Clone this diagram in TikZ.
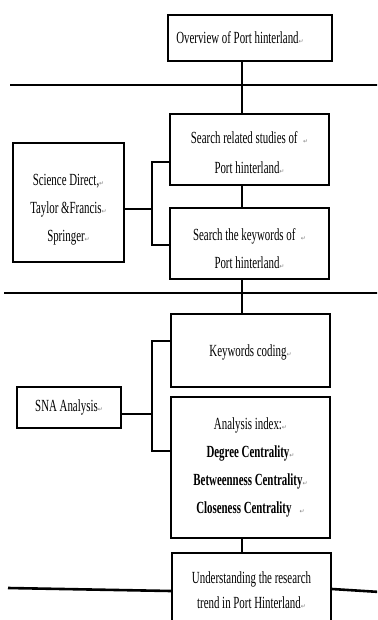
\documentclass[tikz,border=0pt]{standalone}
\usepackage{fontspec}
\setmainfont[FakeStretch=0.64]{Liberation Serif}
\newfontfamily\symf{DejaVu Sans}
\usetikzlibrary{calc}
\newcommand\rmk{{\symf\fontsize{6}{6}\selectfont\color{gray}↵}}
\newcommand\lift[1]{\rule{0pt}{#1pt}}
\begin{document}
\begin{tikzpicture}[x=1pt,y=-1pt,
  box/.style={draw, line width=2pt, align=center, inner sep=0pt, font=\fontsize{17}{28}\selectfont},
  vline/.style={line width=1.3pt},
  conn/.style={line width=2pt},
  sepline/.style={line width=2.6pt}]
\useasboundingbox (0,0) rectangle (377,620);
\clip (0,0) rectangle (377,620);

% boxes
\node[box, minimum width=164pt, minimum height=46pt] (top) at (250,38)
  {Overview of Port hinterland\rmk\hspace*{20pt}};
\node[box, minimum width=159pt, minimum height=71pt] (rel) at (249.5,149.5)
  {\lift{19}Search related studies of\ \ \rmk\\[2pt]Port hinterland\rmk};
\node[box, minimum width=159pt, minimum height=71pt] (kw) at (249.5,243.5)
  {\lift{23}Search the keywords of\ \ \rmk\\Port hinterland\rmk};
\node[box, minimum width=111pt, minimum height=119pt] (src) at (68.5,202.5)
  {\lift{26}Science Direct,\rmk\\Taylor \&Francis\rmk\\Springer\rmk};
\node[box, minimum width=159pt, minimum height=73pt] (code) at (250.5,350.5)
  {\lift{15}Keywords coding\rmk};
\node[box, minimum width=159pt, minimum height=141pt] (idx) at (250.5,467.5)
  {Analysis index:\rmk\\\textbf{Degree Centrality}\rmk\\\textbf{Betweenness Centrality}\rmk\\\textbf{Closeness Centrality}\ \ \ \rmk};
\node[box, minimum width=104pt, minimum height=41pt] (sna) at (69,407.5)
  {SNA Analysis\rmk};
\node[box, minimum width=159pt, minimum height=75pt, font=\fontsize{17}{25}\selectfont] (und) at (251.5,590.5)
  {Understanding the research\\trend in Port Hinterland\rmk};

% separator lines
\coordinate (s1l) at (10,85);  \coordinate (s1r) at (380,85);
\coordinate (s2l) at (4,293);  \coordinate (s2r) at (380,293);
\coordinate (s3l) at (8,588);  \coordinate (s3m) at (0,591);
\coordinate (s3n) at (0,589);  \coordinate (s3r) at (380,592);
\draw[sepline] (s1l) -- (s1r);
\draw[sepline] (s2l) -- (s2r);
\draw[sepline] (s3l) -- (und.west |- s3m);
\draw[sepline] (und.east |- s3n) -- (s3r);

% central vertical connectors
\coordinate (cx) at (242,0);
\draw[vline] (top.south -| cx) -- (rel.north -| cx);
\draw[vline] (rel.south -| cx) -- (kw.north -| cx);
\draw[vline] (kw.south -| cx) -- (code.north -| cx);
\draw[vline] (idx.south -| cx) -- (und.north -| cx);

% brackets
\coordinate (bx) at (152,0);
\coordinate (relp) at ([yshift=-12.5pt]rel.west);
\coordinate (kwp) at ([yshift=-1.5pt]kw.west);
\coordinate (srcp) at ([yshift=-6.5pt]src.east);
\draw[conn] (relp) -| (bx |- kwp) -- (kwp);
\draw[conn] (srcp) -- (srcp -| bx);
\coordinate (codep) at ([yshift=9.5pt]code.west);
\coordinate (idxp) at ([yshift=16.5pt]idx.west);
\coordinate (snap) at ([yshift=-6.5pt]sna.east);
\draw[conn] (codep) -| (bx |- idxp) -- (idxp);
\draw[conn] (snap) -- (snap -| bx);
\end{tikzpicture}
\end{document}
